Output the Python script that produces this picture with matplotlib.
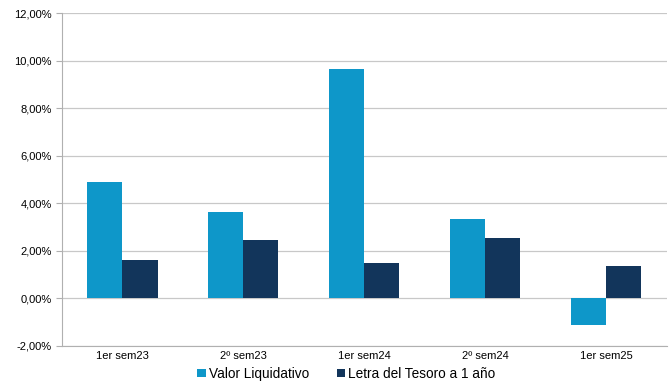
import numpy as np
import matplotlib
matplotlib.use("Agg")
import matplotlib.pyplot as plt
from matplotlib.ticker import FuncFormatter

# semester returns (%)
periodos = ["1er sem23", "2º sem23", "1er sem24", "2º sem24", "1er sem25"]
valor_liquidativo = [4.88, 3.65, 9.63, 3.32, -1.13]
letra_tesoro = [1.60, 2.44, 1.50, 2.52, 1.35]

plt.rcParams["font.family"] = ["Liberation Sans", "DejaVu Sans"]

fig = plt.figure(figsize=(6.7, 3.83), dpi=100)
ax = fig.add_axes([0.0925, 0.097, 0.9025, 0.869])

x = np.arange(len(periodos))
w = 0.29
ax.bar(x - w / 2, valor_liquidativo, w, color="#0E97C9", label="Valor Liquidativo", zorder=3)
ax.bar(x + w / 2, letra_tesoro, w, color="#12355B", label="Letra del Tesoro a 1 año", zorder=3)

ax.set_xlim(-0.5, len(periodos) - 0.5)
ax.set_ylim(-2, 12)
ax.set_yticks(np.arange(-2, 13, 2))
ax.yaxis.set_major_formatter(FuncFormatter(lambda v, p: f"{v:.2f}%".replace(".", ",")))
ax.grid(axis="y", color="#C8C8C8", linewidth=0.9, zorder=0)

ax.set_xticks(x)
ax.set_xticklabels(periodos)
ax.tick_params(axis="x", length=0, pad=4, labelsize=8)
ax.tick_params(axis="y", length=4, color="#B0B0B0", labelsize=8)

for s in ["top", "right"]:
    ax.spines[s].set_visible(False)
for s in ["left", "bottom"]:
    ax.spines[s].set_color("#B0B0B0")

fig.legend(loc="center", bbox_to_anchor=(0.517, 0.024), ncol=2, frameon=False,
           fontsize=9.8, handlelength=0.6, handleheight=0.6, handletextpad=0.25,
           columnspacing=2.0, borderaxespad=0, borderpad=0)

fig.savefig("out.png", dpi=100)
